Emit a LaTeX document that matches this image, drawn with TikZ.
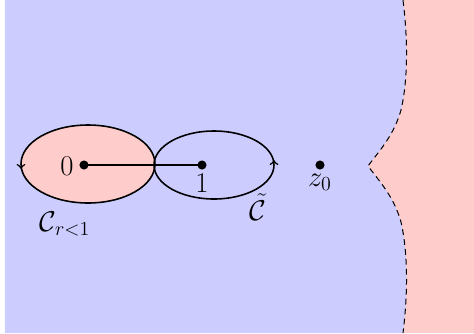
\documentclass[tikz,border=0pt]{standalone}
\usetikzlibrary{decorations.markings}
\definecolor{bluereg}{RGB}{204,204,255}
\definecolor{pinkreg}{RGB}{255,204,204}
\tikzset{
  contour/.style={line width=0.95pt, postaction={decorate}},
  dotmark/.style={circle, fill=black, inner sep=0pt, minimum size=5.5pt},
  lab/.style={inner sep=0pt, font=\fontsize{18}{22}\selectfont},
}
\begin{document}
\begin{tikzpicture}[x=0.021186cm, y=-0.021186cm]
\useasboundingbox (0,0) rectangle (474,333);
% regions
\fill[pinkreg] (5,0) rectangle (474,333);
\fill[bluereg] (5,0) -- (403,0) .. controls (408,40) and (408,80) .. (401,110)
  .. controls (394,135) and (380,150) .. (368,166)
  .. controls (380,182) and (394,197) .. (401,222)
  .. controls (408,253) and (408,293) .. (403,333) -- (5,333) -- cycle;
\draw[semithick, dash pattern=on 3.5pt off 2.5pt] (403,0) .. controls (408,40) and (408,80) .. (401,110)
  .. controls (394,135) and (380,150) .. (368,166)
  .. controls (380,182) and (394,197) .. (401,222)
  .. controls (408,253) and (408,293) .. (403,333);
% left disc
\fill[pinkreg] (88,164) ellipse [x radius=67, y radius=39];
% points
\node[dotmark] (p0) at (84,165) {};
\node[dotmark] (p1) at (202,165) {};
\node[dotmark] (pz) at (320,165) {};
\draw[line width=0.95pt] (p0.center) -- (p1.center);
% contours
\draw[contour, decoration={markings, mark=at position 0.5 with {\arrow{<}}}]
  (155,164) arc[start angle=0, end angle=360, x radius=67, y radius=39];
\draw[contour, decoration={markings, mark=at position 0.5 with {\arrow{<}}}]
  (154,165) arc[start angle=180, end angle=540, x radius=60, y radius=34];
% labels
\node[lab] (l0) at (67,166) {$0$};
\node[lab] (l1) at (202,183) {$1$};
\node[lab] (lz) at (320,182) {$z_0$};
\node[lab] (lc) at (65,224) {$\mathcal{C}_{r<1}$};
\node[lab] (lt) at (258,207) {$\tilde{\mathcal{C}}$};
\end{tikzpicture}
\end{document}
